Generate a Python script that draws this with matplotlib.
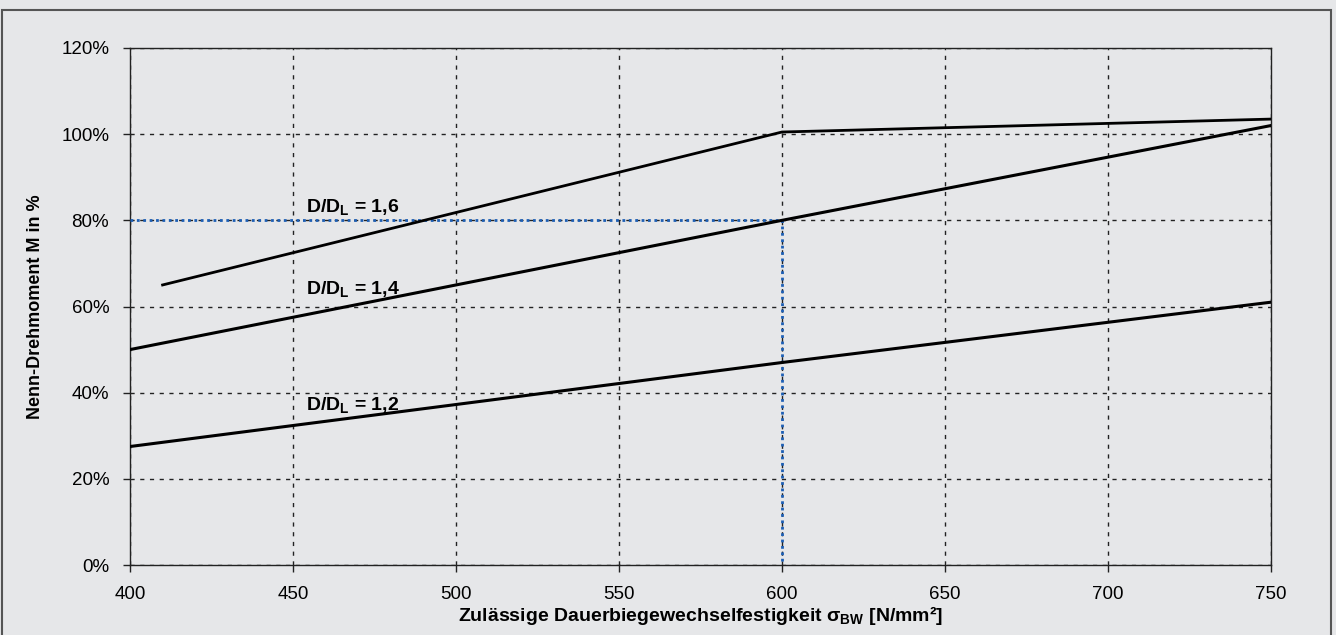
import matplotlib
matplotlib.use("Agg")
import matplotlib.pyplot as plt
from matplotlib.patches import Rectangle

plt.rcParams['font.family'] = ['Liberation Sans', 'DejaVu Sans']
plt.rcParams['mathtext.default'] = 'regular'

# Data
x_16 = [410, 600, 750]
y_16 = [65, 100.5, 103.5]
x_14 = [400, 600, 750]
y_14 = [50, 80, 102]
x_12 = [400, 600, 750]
y_12 = [27.5, 47, 61]
guide_x = [400, 600, 600]
guide_y = [80, 80, 0]
x_ticks = [400, 450, 500, 550, 600, 650, 700, 750]
y_ticks = [0, 20, 40, 60, 80, 100, 120]
labels = ["D/D$_\\mathregular{L}$ = 1,6", "D/D$_\\mathregular{L}$ = 1,4", "D/D$_\\mathregular{L}$ = 1,2"]
label_pos = [(454, 82), (454, 63), (454, 36)]

bg = '#e6e7e9'
fig = plt.figure(figsize=(13.36, 6.35), dpi=100, facecolor=bg)
ax = fig.add_axes([130/1336, 1-565/635, (1271-130)/1336, (565-48)/635])
ax.set_facecolor(bg)

# figure border
fig.patches.append(Rectangle((2/1336, -0.05), (1331-2)/1336, 1.05 - 10/635,
                             transform=fig.transFigure, fill=False,
                             edgecolor='#555555', lw=1.5))

ax.set_xlim(400, 750)
ax.set_ylim(0, 120)
ax.set_xticks(x_ticks)
ax.set_yticks(y_ticks)
ax.set_yticklabels([f"{v}%" for v in y_ticks])
ax.tick_params(axis='both', labelsize=13.5, length=5, width=1, color='#222222')
ax.tick_params(axis='y', pad=10)
ax.tick_params(axis='x', pad=10)
ax.grid(True, color='#222222', linestyle=(0, (3, 4)), linewidth=1)
for s in ax.spines.values():
    s.set_color('#222222')
    s.set_linewidth(1)

ax.plot(guide_x, guide_y, color='#1d5fb5', linestyle=(0, (1, 1.3)), linewidth=2, zorder=3)
ax.plot(x_16, y_16, color='black', lw=2, zorder=4)
ax.plot(x_14, y_14, color='black', lw=2.2, zorder=4)
ax.plot(x_12, y_12, color='black', lw=2.2, zorder=4)

for lab, (lx, ly) in zip(labels, label_pos):
    ax.text(lx, ly, lab, fontsize=14, fontweight='bold', ha='left', va='baseline', zorder=5)

ax.set_xlabel("Zulässige Dauerbiegewechselfestigkeit σ$_\\mathregular{BW}$ [N/mm²]",
              fontsize=14, fontweight='bold', labelpad=1)
ax.set_ylabel("Nenn-Drehmoment M in %", fontsize=13, fontweight='bold', labelpad=12)

fig.savefig("out.png", dpi=100, facecolor=bg)
